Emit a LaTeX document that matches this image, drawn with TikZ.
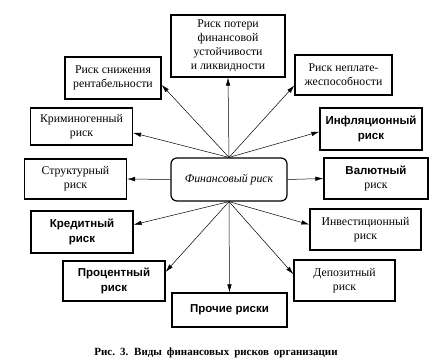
\documentclass[tikz,border=0pt]{standalone}
\usepackage{fontspec}
\setmainfont{Liberation Serif}
\newfontfamily\grotesk{Liberation Sans}
\usepackage{tikz}
\usetikzlibrary{arrows.meta, positioning}

\begin{document}
\begin{tikzpicture}[x=1pt, y=1pt,
        vid/.style={rectangle, draw, line width=1.2pt, minimum width=102pt, minimum height=41pt, align=center, inner sep=2pt, font=\fontsize{11.8}{14}\selectfont},
        vidb/.style={vid, font=\grotesk\bfseries\fontsize{11.5}{14.5}\selectfont},
        strelka/.style={-{Latex[length=8pt, width=4.5pt]}, line width=0.5pt}]

        \useasboundingbox (0,0) rectangle (434,-364);

        % Центр
        \node[vid, rounded corners=6pt, minimum width=116pt, minimum height=43pt, font=\itshape\fontsize{11.8}{14}\selectfont] (fin) at (229,-179.5) {Финансовый риск};

        % Виды рисков
        \node[vid, minimum width=114pt, minimum height=62pt] (poter) at (228,-46) {Риск потери\\финансовой\\устойчивости\\и ликвидности};
        \node[vid, minimum width=96pt, minimum height=42pt] (rent) at (113,-78) {Риск снижения\\рентабельности};
        \node[vid, minimum width=97pt, minimum height=40pt] (neplat) at (343.5,-75) {Риск неплате-\\жеспособности};
        \node[vid, minimum height=37pt] (krim) at (81.5,-126.5) {Криминогенный\\риск};
        \node[vidb, minimum height=42pt] (infl) at (371,-129) {Инфляционный\\риск};
        \node[vid, minimum height=40pt] (strukt) at (75.5,-179) {Структурный\\риск};
        \node[vid, minimum width=104pt] (val) at (376,-178.5) {{\grotesk\bfseries\fontsize{11.5}{14.5}\selectfont Валютный}\\риск};
        \node[vidb, minimum height=42pt] (kred) at (82,-232) {Кредитный\\риск};
        \node[vid, minimum width=111pt] (invest) at (365.5,-229.5) {Инвестиционный\\риск};
        \node[vidb, minimum height=40pt] (proc) at (114,-281) {Процентный\\риск};
        \node[vid, minimum width=101pt] (depoz) at (344.5,-280.5) {Депозитный\\риск};
        \node[vidb, minimum width=115pt, minimum height=34pt] (proch) at (229.5,-310) {Прочие риски};

        % Стрелки
        \draw[strelka] (fin.north) -- (poter.south);
        \draw[strelka] (fin.north) -- (rent.-8);
        \draw[strelka] (fin.north) -- (krim.-7);
        \draw[strelka] (fin.north) -- (neplat.192);
        \draw[strelka] (fin.north) -- (infl.183);
        \draw[strelka] (fin.west) -- (strukt.east);
        \draw[strelka] (fin.east) -- (val.west);
        \draw[strelka] (fin.south) -- (kred.8);
        \draw[strelka] (fin.south) -- (proc.10);
        \draw[strelka] (fin.south) -- (proch.north);
        \draw[strelka] (fin.south) -- (invest.175);
        \draw[strelka] (fin.south) -- (depoz.173);

        % Подпись
        \node[font=\bfseries\fontsize{11}{13}\selectfont] (podpis) at (216,-353) {\spaceskip=5pt plus 1pt Рис.~3. Виды финансовых рисков организации};
    \end{tikzpicture}
\end{document}
